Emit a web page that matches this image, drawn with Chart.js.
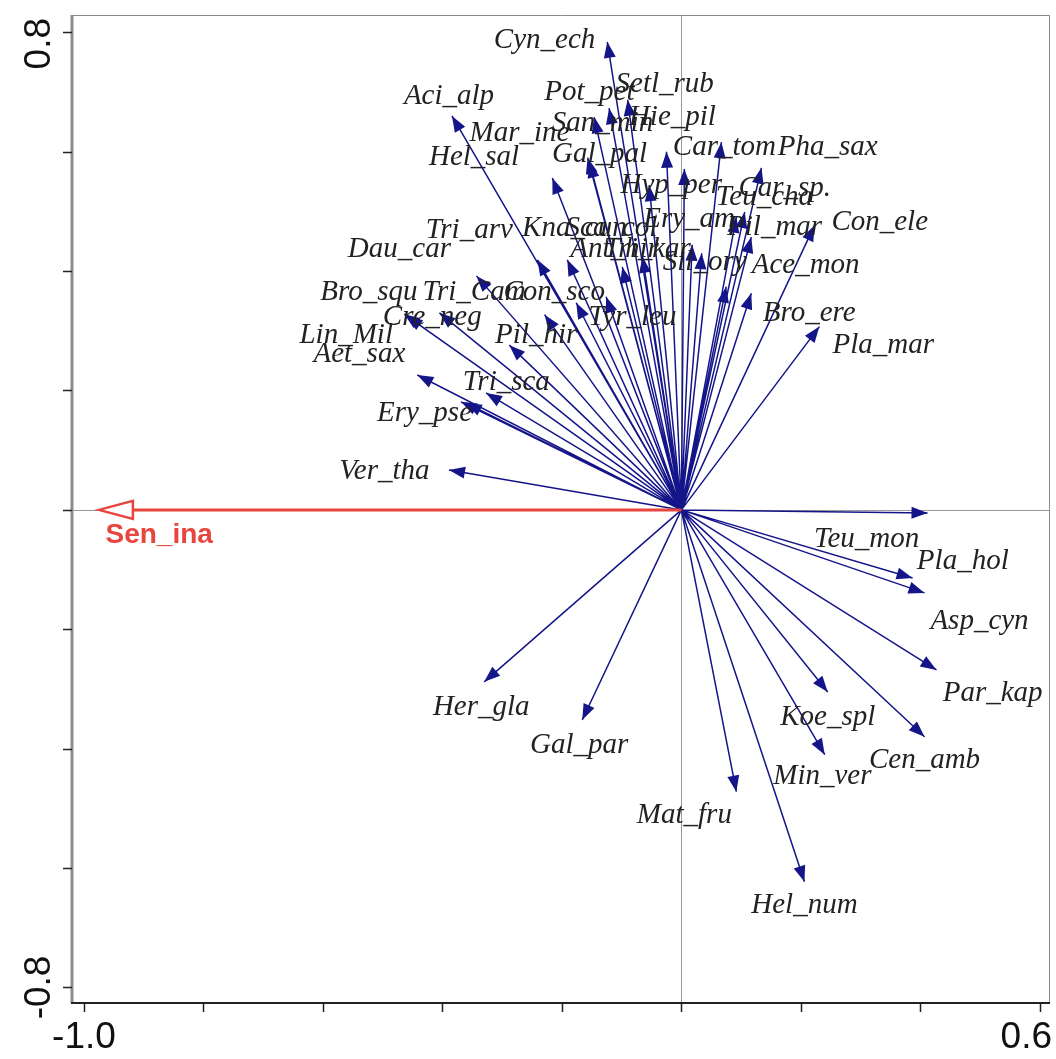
<!DOCTYPE html>
<html>
<head>
<meta charset="utf-8">
<script src="https://cdn.jsdelivr.net/npm/chart.js@4.4.0/dist/chart.umd.min.js"></script>
<style>
  html, body { margin: 0; padding: 0; background: #fff; }
  #wrap { width: 1056px; height: 1059px; }
</style>
</head>
<body>
<div id="wrap"><canvas id="myChart" width="1056" height="1059"></canvas></div>
<script>
// species names (as printed on the plot)
const species = [
  'Cyn_ech', 'Aci_alp', 'Pot_pet', 'Setl_rub', 'San_min', 'Hie_pil', 'Mar_ine', 'Hel_sal', 'Gal_pal',
  'Car_tom', 'Pha_sax', 'Hyp_per', 'Car_sp.', 'Teu_cha', 'Ery_am', 'Pil_mar', 'Con_ele',
  'Tri_arv', 'Kna_cun', 'Sca_col', 'Ant_hir', 'Tri_kar', 'Sil_ory', 'Ace_mon', 'Dau_car',
  'Bro_squ', 'Tri_Cam', 'Con_sco', 'Cre_neg', 'Pil_hir', 'Tyr_leu', 'Bro_ere', 'Pla_mar',
  'Lin_Mil', 'Aet_sax', 'Tri_sca', 'Ery_pse', '', 'Ver_tha',
  'Teu_mon', 'Pla_hol', 'Asp_cyn', 'Par_kap', 'Koe_spl', 'Cen_amb', 'Min_ver', 'Mat_fru', 'Hel_num',
  'Her_gla', 'Gal_par'
];
// arrow tips, ordination axis 1
const axis1 = [
  -0.124, -0.384, -0.121, -0.090, -0.146, -0.025, -0.154, -0.216, -0.157,
  0.005, 0.067, -0.054, 0.134, 0.106, 0.092, 0.117, 0.223,
  -0.241, -0.191, -0.065, 0.018, -0.099, 0.034, 0.075, -0.343,
  -0.464, -0.229, -0.176, -0.405, -0.288, -0.126, 0.117, 0.231,
  -0.460, -0.442, -0.327, -0.369, -0.361, -0.389,
  0.412, 0.387, 0.407, 0.427, 0.245, 0.407, 0.240, 0.092, 0.206,
  -0.330, -0.166
];
// arrow tips, ordination axis 2
const axis2 = [
  0.784, 0.660, 0.673, 0.687, 0.658, 0.600, 0.583, 0.556, 0.590,
  0.571, 0.616, 0.544, 0.573, 0.499, 0.491, 0.457, 0.477,
  0.419, 0.419, 0.424, 0.444, 0.407, 0.430, 0.374, 0.392,
  0.328, 0.327, 0.347, 0.330, 0.276, 0.357, 0.363, 0.307,
  0.325, 0.226, 0.196, 0.181, 0.179, 0.067,
  -0.005, -0.114, -0.139, -0.268, -0.305, -0.380, -0.410, -0.472, -0.623,
  -0.288, -0.352
];
// where each name sits, in axis units
const labelX = [
  -0.229, -0.389, -0.154, -0.028, -0.132, -0.015, -0.271, -0.347, -0.137,
  0.072, 0.245, -0.017, 0.173, 0.139, 0.013, 0.156, 0.332,
  -0.355, -0.179, -0.117, -0.112, -0.057, 0.039, 0.208, -0.472,
  -0.523, -0.347, -0.213, -0.417, -0.243, -0.082, 0.214, 0.338,
  -0.561, -0.539, -0.293, -0.430, 0, -0.497,
  0.310, 0.471, 0.499, 0.521, 0.245, 0.407, 0.236, 0.005, 0.206,
  -0.335, -0.171
];
const labelY = [
  0.787, 0.692, 0.700, 0.712, 0.648, 0.658, 0.631, 0.591, 0.595,
  0.608, 0.608, 0.544, 0.539, 0.524, 0.486, 0.474, 0.482,
  0.469, 0.472, 0.472, 0.436, 0.436, 0.415, 0.410, 0.436,
  0.365, 0.365, 0.365, 0.322, 0.293, 0.322, 0.330, 0.276,
  0.293, 0.260, 0.213, 0.162, 0, 0.064,
  -0.050, -0.087, -0.186, -0.307, -0.347, -0.420, -0.447, -0.511, -0.662,
  -0.330, -0.394
];
// environmental variable (red arrow)
const envName = 'Sen_ina';
const envX = -0.975;
const envY = 0.0;
const envLabelX = -0.964;
const envLabelY = -0.042;

// axis ticks
const xTicks = [-1.0, -0.8, -0.6, -0.4, -0.2, 0.0, 0.2, 0.4, 0.6];
const yTicks = [-0.8, -0.6, -0.4, -0.2, 0.0, 0.2, 0.4, 0.6, 0.8];
const xTickLabels = ['-1.0', '', '', '', '', '', '', '', '0.6'];
const yTickLabels = ['-0.8', '', '', '', '', '', '', '', '0.8'];

const NAVY = '#15158a';
const RED = '#e8453f';

// one line dataset: origin -> tip, gaps between arrows
const segs = [];
for (let i = 0; i < axis1.length; i++) {
  segs.push({ x: 0, y: 0 }, { x: axis1[i], y: axis2[i] }, { x: null, y: null });
}

function head(ctx, x0, y0, x1, y1, len, half, fill) {
  const a = Math.atan2(y1 - y0, x1 - x0);
  ctx.save();
  ctx.translate(x1, y1);
  ctx.rotate(a);
  ctx.beginPath();
  ctx.moveTo(0, 0);
  ctx.lineTo(-len, -half);
  ctx.lineTo(-len, half);
  ctx.closePath();
  if (fill) { ctx.fill(); } else { ctx.stroke(); }
  ctx.restore();
}

const biplot = {
  id: 'biplot',
  beforeDatasetsDraw(chart) {
    const { ctx, chartArea: ca, scales: { x, y } } = chart;
    ctx.save();
    ctx.strokeStyle = '#9a9a9a';
    ctx.lineWidth = 1;
    ctx.beginPath();
    ctx.moveTo(Math.round(x.getPixelForValue(0)) + 0.5, ca.top);
    ctx.lineTo(Math.round(x.getPixelForValue(0)) + 0.5, ca.bottom);
    ctx.moveTo(ca.left, Math.round(y.getPixelForValue(0)) + 0.5);
    ctx.lineTo(ca.right, Math.round(y.getPixelForValue(0)) + 0.5);
    ctx.stroke();
    ctx.restore();
  },
  afterDatasetsDraw(chart) {
    const { ctx, chartArea: ca, scales: { x, y } } = chart;
    const ox = x.getPixelForValue(0), oy = y.getPixelForValue(0);
    ctx.save();

    // arrow heads
    ctx.fillStyle = NAVY;
    for (let i = 0; i < axis1.length; i++) {
      head(ctx, ox, oy, x.getPixelForValue(axis1[i]), y.getPixelForValue(axis2[i]), 16, 6, true);
    }

    // red environmental arrow
    const ex = x.getPixelForValue(envX), ey = y.getPixelForValue(envY);
    ctx.strokeStyle = RED;
    ctx.lineWidth = 3;
    ctx.beginPath();
    ctx.moveTo(ox, oy);
    ctx.lineTo(ex + 34, ey);
    ctx.stroke();
    ctx.fillStyle = '#fff';
    head(ctx, ox, oy, ex, ey, 34, 9, true);
    ctx.lineWidth = 2.5;
    head(ctx, ox, oy, ex, ey, 34, 9, false);

    // species names
    ctx.fillStyle = '#222';
    ctx.font = 'italic 29px "Liberation Serif", "DejaVu Serif", serif';
    ctx.textAlign = 'center';
    ctx.textBaseline = 'middle';
    for (let i = 0; i < species.length; i++) {
      if (!species[i]) continue;
      ctx.fillText(species[i], x.getPixelForValue(labelX[i]), y.getPixelForValue(labelY[i]));
    }
    ctx.fillStyle = RED;
    ctx.font = 'bold 28px "Liberation Sans", Arial, sans-serif';
    ctx.textAlign = 'left';
    ctx.fillText(envName, x.getPixelForValue(envLabelX), y.getPixelForValue(envLabelY));

    // frame
    ctx.lineWidth = 1;
    ctx.strokeStyle = '#8a8a8a';
    ctx.beginPath();
    ctx.moveTo(ca.left, ca.top + 0.5);
    ctx.lineTo(ca.right - 0.5, ca.top + 0.5);
    ctx.lineTo(ca.right - 0.5, ca.bottom);
    ctx.stroke();
    ctx.lineWidth = 3;
    ctx.strokeStyle = '#8c8c8c';
    ctx.beginPath();
    ctx.moveTo(ca.left, ca.top);
    ctx.lineTo(ca.left, ca.bottom);
    ctx.stroke();
    ctx.lineWidth = 2;
    ctx.strokeStyle = '#222';
    ctx.beginPath();
    ctx.moveTo(ca.left - 1, ca.bottom);
    ctx.lineTo(ca.right, ca.bottom);
    ctx.stroke();

    // ticks
    ctx.lineWidth = 1.5;
    ctx.strokeStyle = '#222';
    ctx.beginPath();
    xTicks.forEach(v => {
      const px = Math.round(x.getPixelForValue(v)) + 0.5;
      ctx.moveTo(px, ca.bottom);
      ctx.lineTo(px, ca.bottom + 9);
    });
    yTicks.forEach(v => {
      const py = Math.round(y.getPixelForValue(v)) + 0.5;
      ctx.moveTo(ca.left, py);
      ctx.lineTo(ca.left - 9, py);
    });
    ctx.stroke();

    // tick labels
    ctx.fillStyle = '#111';
    ctx.font = '37px "Liberation Sans", Arial, sans-serif';
    ctx.textBaseline = 'middle';
    xTicks.forEach((v, i) => {
      const t = xTickLabels[i];
      if (!t) return;
      let px = x.getPixelForValue(v);
      const w = ctx.measureText(t).width;
      px = Math.min(px, chart.width - 4 - w / 2);
      ctx.textAlign = 'center';
      ctx.fillText(t, px, ca.bottom + 35);
    });
    yTicks.forEach((v, i) => {
      const t = yTickLabels[i];
      if (!t) return;
      let py = y.getPixelForValue(v);
      const w = ctx.measureText(t).width;
      py = Math.max(py, 18 + w / 2);
      ctx.save();
      ctx.translate(40, py);
      ctx.rotate(-Math.PI / 2);
      ctx.textAlign = 'center';
      ctx.fillText(t, 0, 0);
      ctx.restore();
    });
    ctx.restore();
  }
};

const config = {
  type: 'scatter',
  data: {
    datasets: [{
      data: segs,
      showLine: true,
      spanGaps: false,
      borderColor: NAVY,
      borderWidth: 1.5,
      pointRadius: 0,
      pointHoverRadius: 0
    }]
  },
  options: {
    responsive: false,
    devicePixelRatio: 1,
    animation: false,
    events: [],
    layout: { padding: { left: 72, right: 6, top: 15, bottom: 56 } },
    plugins: { legend: { display: false }, tooltip: { enabled: false } },
    scales: {
      x: { type: 'linear', min: -1.02, max: 0.617, display: false },
      y: { type: 'linear', min: -0.826, max: 0.829, display: false }
    }
  },
  plugins: [biplot]
};

const myChart = new Chart(document.getElementById('myChart'), config);
</script>
</body>
</html>
